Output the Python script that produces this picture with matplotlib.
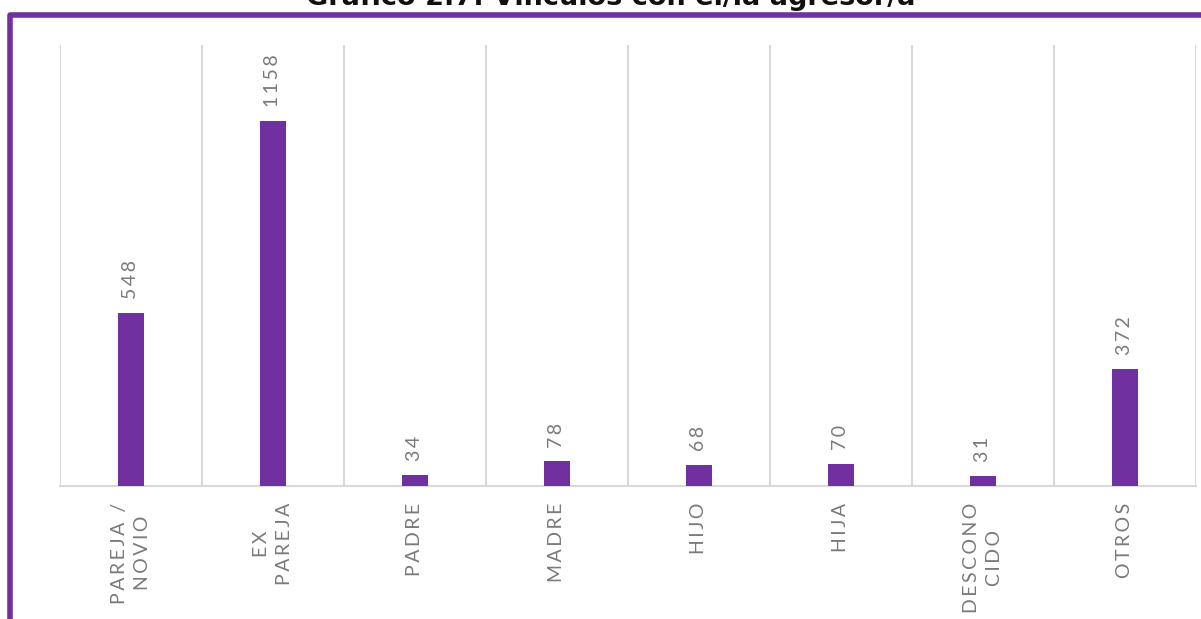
import matplotlib.pyplot as plt
from matplotlib.patches import Rectangle

categories = ['PAREJA /\nNOVIO', 'EX\nPAREJA', 'PADRE', 'MADRE', 'HIJO', 'HIJA',
              'DESCONO\nCIDO', 'OTROS']
values = [548, 1158, 34, 78, 68, 70, 31, 372]

purple = '#7030A0'
grey = '#7a7a7a'
fonts = ['Lato', 'DejaVu Sans']


def spaced(label):
    # letter-spaced look of the original labels
    return '\n'.join('\u2009'.join(line) for line in label.split('\n'))


fig = plt.figure(figsize=(12.01, 6.19), dpi=100)
ax = fig.add_axes([60 / 1201, 1 - 486 / 619, 1136 / 1201, 441 / 619])

x = list(range(len(values)))
ax.bar(x, values, width=0.183, color=purple, zorder=3)

for xi, v in zip(x, values):
    ax.annotate(spaced(str(v)), (xi, v), xytext=(0, 10), textcoords='offset points',
                ha='center', va='bottom', rotation=90, fontsize=14,
                family=fonts, color=grey)

ax.set_xlim(-0.5, len(values) - 0.5)
ax.set_ylim(0, 1400)
ax.set_yticks([])
ax.set_xticks(x)
ax.set_xticklabels([spaced(c) for c in categories], rotation=90,
                   fontsize=14, family=fonts, color=grey, linespacing=1.45)
ax.tick_params(axis='x', length=0, pad=12)

for b in [i - 0.5 for i in range(len(values) + 1)]:
    ax.axvline(b, color='#d9d9d9', lw=1.5, zorder=1)

for s in ['top', 'left', 'right']:
    ax.spines[s].set_visible(False)
ax.spines['bottom'].set_color('#d9d9d9')
ax.spines['bottom'].set_linewidth(1.5)

fig.text(611 / 1201, 1 - 5 / 619, 'Gráfico 2.7: Vínculos con el/la agresor/a',
         ha='center', va='baseline', fontsize=19.5, fontweight='bold',
         family='DejaVu Sans', color='#111111')

border = Rectangle((10 / 1201, -0.5), 1.5, 0.5 + 1 - 15 / 619,
                   transform=fig.transFigure, fill=False, edgecolor=purple,
                   linewidth=4, joinstyle='round', clip_on=False)
fig.patches.append(border)

fig.savefig('out.png', dpi=100)
